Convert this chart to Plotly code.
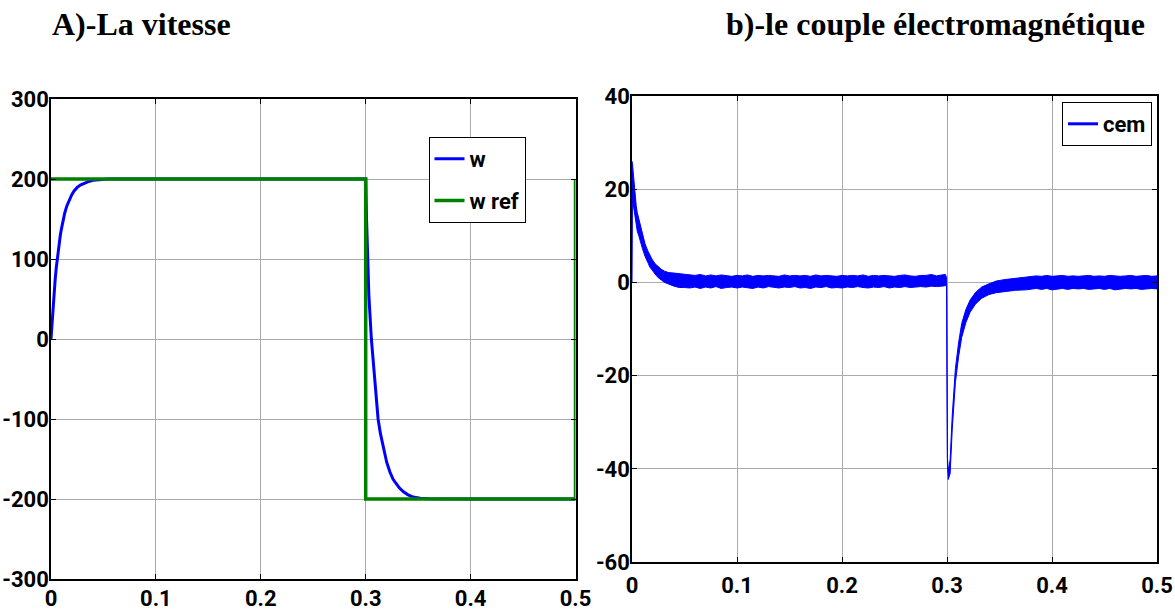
import plotly.graph_objects as go

# ---------------- data ----------------
# A) speed w and its reference w ref
t_w = [0, 0.001, 0.002, 0.003, 0.004, 0.005, 0.006, 0.007, 0.008, 0.009, 0.010, 0.0117,
       0.013, 0.015, 0.017, 0.0197, 0.022, 0.025, 0.028, 0.031, 0.035, 0.040, 0.047,
       0.055, 0.1, 0.2, 0.2995, 0.3, 0.3008, 0.3016, 0.303, 0.3054, 0.308, 0.310,
       0.3118, 0.314, 0.317, 0.320, 0.323, 0.326, 0.3286, 0.332, 0.336, 0.340,
       0.345, 0.352, 0.36, 0.37, 0.4, 0.5]
w_vals = [0, 22, 42, 60, 75, 89, 101, 112, 122, 131, 138, 151,
          157, 166, 173, 180, 185, 189.5, 192.5, 194.5, 196.5, 198.3, 199.5,
          200, 200, 200, 200, 200, 150, 100, 55, 0, -42, -70,
          -100, -118, -138, -154, -166, -175, -180, -186, -191, -194.5,
          -197.5, -199, -199.7, -200, -200, -200]

t_ref = [0, 0.3, 0.3, 0.5, 0.5]
ref_vals = [200, 200, -200, -200, 200]

# b) electromagnetic torque cem : upper / lower envelope of the noisy band
cem_t = [0, 0.0005, 0.001, 0.002, 0.003, 0.004, 0.005, 0.0065, 0.008, 0.010, 0.0124,
         0.015, 0.017, 0.019, 0.022, 0.025, 0.028, 0.031, 0.035, 0.040, 0.045, 0.050,
         0.055, 0.060, 0.065, 0.070, 0.075, 0.080, 0.085, 0.090, 0.095, 0.100,
         0.105, 0.110, 0.115, 0.120, 0.125, 0.130, 0.135, 0.140, 0.145, 0.150,
         0.155, 0.160, 0.165, 0.170, 0.175, 0.180, 0.185, 0.190, 0.195, 0.200,
         0.205, 0.210, 0.215, 0.220, 0.225, 0.230, 0.235, 0.240, 0.245, 0.250,
         0.255, 0.260, 0.265, 0.270, 0.275, 0.280, 0.285, 0.290, 0.295,
         0.2985, 0.2996, 0.3004, 0.3012, 0.303, 0.305, 0.308, 0.311, 0.314, 0.318,
         0.322, 0.327, 0.333, 0.340, 0.347, 0.355, 0.365, 0.375,
         0.380, 0.385, 0.390, 0.395, 0.400, 0.405, 0.410, 0.415, 0.420, 0.425,
         0.430, 0.435, 0.440, 0.445, 0.450, 0.455, 0.460, 0.465, 0.470, 0.475,
         0.480, 0.485, 0.490, 0.495, 0.500]
cem_hi = [26, 25.5, 24, 21, 18.5, 16.5, 15, 13.5, 12, 10, 8.3,
          6.8, 5.8, 5.0, 4.0, 3.3, 2.8, 2.4, 2.1, 2.0, 1.9, 1.8,
          1.7, 1.5, 1.7, 1.4, 1.6, 1.4, 1.6, 1.5, 1.3, 1.5,
          1.4, 1.6, 1.3, 1.5, 1.4, 1.5, 1.4, 1.3, 1.6, 1.4,
          1.5, 1.4, 1.5, 1.3, 1.6, 1.4, 1.5, 1.4, 1.3, 1.5,
          1.4, 1.5, 1.4, 1.6, 1.3, 1.5, 1.4, 1.5, 1.4, 1.3,
          1.5, 1.6, 1.4, 1.3, 1.5, 1.5, 1.7, 1.4, 1.6,
          1.7, 1.0, -37.5, -40.5, -38, -28.5, -18.5, -13, -8.8, -5.8,
          -3.8, -2.2, -1.0, -0.3, 0.3, 0.6, 0.9, 1.1,
          1.3, 1.4, 1.3, 1.5, 1.3, 1.4, 1.5, 1.3, 1.4, 1.3,
          1.4, 1.5, 1.3, 1.4, 1.3, 1.5, 1.4, 1.3, 1.4, 1.5,
          1.3, 1.4, 1.5, 1.3, 1.4]
cem_lo = [0, 19, 17, 15.5, 14, 12.5, 11, 10, 9, 7.2, 5.6,
          4.3, 3.3, 2.6, 1.8, 1.0, 0.5, 0.0, -0.4, -0.8, -1.1, -1.1,
          -1.2, -1.0, -1.3, -1.0, -1.2, -0.9, -1.3, -1.1, -1.0, -1.2,
          -1.0, -1.1, -1.3, -1.0, -1.2, -0.9, -1.1, -1.2, -1.0, -1.1,
          -0.9, -1.2, -1.1, -1.3, -1.0, -1.1, -0.9, -1.2, -1.1, -1.2,
          -1.0, -1.1, -0.9, -1.1, -1.2, -1.0, -1.1, -0.9, -1.2, -1.0,
          -1.1, -0.9, -1.1, -1.0, -0.9, -1.0, -0.8, -0.9, -0.8,
          -0.7, -0.5, -39, -42.3, -41, -31.5, -21.5, -16, -11.8, -8.6,
          -6.4, -4.7, -3.4, -2.6, -2.2, -1.9, -1.7, -1.6,
          -1.5, -1.3, -1.5, -1.3, -1.6, -1.4, -1.3, -1.5, -1.3, -1.4,
          -1.3, -1.5, -1.4, -1.3, -1.5, -1.3, -1.6, -1.4, -1.3, -1.4,
          -1.3, -1.5, -1.4, -1.3, -1.4]

x_ticks = [0, 0.1, 0.2, 0.3, 0.4, 0.5]
x_tick_text = ["0", "0.1", "0.2", "0.3", "0.4", "0.5"]
y1_ticks = [-300, -200, -100, 0, 100, 200, 300]
y1_tick_text = ["-300", "-200", "-100", "0", "100", "200", "300"]
y2_ticks = [-60, -40, -20, 0, 20, 40]
y2_tick_text = ["-60", "-40", "-20", "0", "20", "40"]

# ---------------- styling ----------------
W, H = 1175, 610
BLUE = "#0000FF"
GREEN = "#008000"
SANS = "Roboto, 'Liberation Sans', sans-serif"
TICK_FONT = dict(family=SANS, size=22, color="black", weight="bold")
LEG_FONT = dict(family=SANS, size=22, color="black", weight="bold")
TITLE_FONT = dict(family="'Liberation Serif', 'Times New Roman', serif", size=32,
                  color="black", weight="bold")


def px_x(p):
    return p / W


def px_y(p):
    return 1 - p / H


fig = go.Figure()
fig.add_trace(go.Scatter(x=t_w, y=w_vals, mode="lines", name="w",
                         line=dict(color=BLUE, width=3),
                         xaxis="x", yaxis="y", legend="legend", legendgroup="w"))
fig.add_trace(go.Scatter(x=t_ref, y=ref_vals, mode="lines", name="w ref",
                         line=dict(color=GREEN, width=3.5),
                         xaxis="x", yaxis="y", legend="legend", legendgroup="wref"))

poly_x = cem_t + cem_t[::-1]
poly_y = cem_hi + cem_lo[::-1]
fig.add_trace(go.Scatter(x=poly_x, y=poly_y, mode="lines", fill="toself",
                         fillcolor=BLUE, line=dict(color=BLUE, width=1),
                         name="cem", showlegend=False, legendgroup="cem",
                         xaxis="x2", yaxis="y2", hoverinfo="skip"))
# legend entry for the torque band
fig.add_trace(go.Scatter(x=[None], y=[None], mode="lines", name="cem",
                         line=dict(color=BLUE, width=3), legendgroup="cem",
                         xaxis="x2", yaxis="y2", legend="legend2"))

axis_common = dict(showgrid=True, gridcolor="#ababab", gridwidth=1,
                   showline=True, linecolor="black", linewidth=1.5, mirror="ticks",
                   ticks="inside", ticklen=5, tickcolor="black", tickwidth=1,
                   zeroline=False, automargin=False, tickfont=TICK_FONT,
                   ticklabeloverflow="allow")

fig.update_layout(
    width=W, height=H,
    margin=dict(l=0, r=0, t=0, b=0, autoexpand=False),
    paper_bgcolor="white", plot_bgcolor="white",
    showlegend=True,
    xaxis=dict(domain=[px_x(51), px_x(575.5)], range=[0, 0.5], anchor="y",
               tickvals=x_ticks, ticktext=x_tick_text, ticklabelstandoff=-1, **axis_common),
    yaxis=dict(domain=[px_y(579), px_y(99)], range=[-300, 300], anchor="x",
               tickvals=y1_ticks, ticktext=y1_tick_text, ticklabelstandoff=-4, **axis_common),
    xaxis2=dict(domain=[px_x(632), px_x(1157)], range=[0, 0.5], anchor="y2",
                tickvals=x_ticks, ticktext=x_tick_text, ticklabelstandoff=3, **axis_common),
    yaxis2=dict(domain=[px_y(562), px_y(96)], range=[-60, 40], anchor="x2",
                tickvals=y2_ticks, ticktext=y2_tick_text, ticklabelstandoff=-4, **axis_common),
    legend=dict(x=px_x(477), y=px_y(137), xanchor="center", yanchor="top",
                bgcolor="white", bordercolor="black", borderwidth=1,
                font=LEG_FONT, itemwidth=30, tracegroupgap=10),
    legend2=dict(x=px_x(1152), y=px_y(102), xanchor="right", yanchor="top",
                 bgcolor="white", bordercolor="black", borderwidth=1,
                 font=LEG_FONT, itemwidth=30),
    annotations=[
        dict(text="A)-La vitesse", x=px_x(50), y=px_y(24), xref="paper", yref="paper",
             xanchor="left", yanchor="middle", showarrow=False, font=TITLE_FONT),
        dict(text="b)-le couple électromagnétique", x=px_x(724), y=px_y(24),
             xref="paper", yref="paper", xanchor="left", yanchor="middle",
             showarrow=False, font=TITLE_FONT),
    ],
)

POST = "document.body.style.margin='0';document.body.style.overflow='hidden';"

fig.write_html("out.html", post_script=POST, config={"displayModeBar": False})
